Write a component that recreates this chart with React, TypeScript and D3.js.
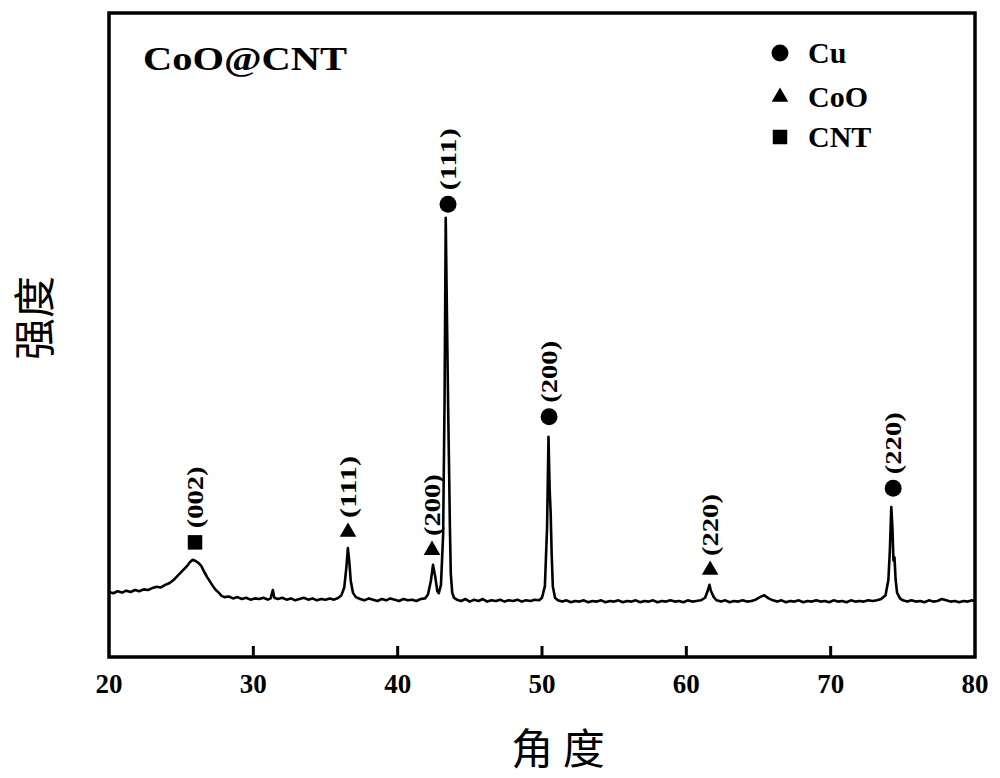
import React from "react";
import * as d3 from "d3";

// XRD trace: [2θ (deg), intensity (a.u.)]
const pattern: [number, number][] = [
  [20.0, 101], [20.3, 99], [20.6, 102], [20.9, 100], [21.2, 103], [21.5, 101], [21.8, 104], [22.1, 102],
  [22.4, 105], [22.7, 104], [23.0, 107], [23.3, 109], [23.6, 108], [23.9, 112], [24.2, 115], [24.5, 120],
  [24.8, 127], [25.1, 134], [25.4, 141], [25.6, 147], [25.8, 151], [26.0, 149], [26.2, 146], [26.4, 141],
  [26.6, 132], [26.8, 124], [27.0, 117], [27.2, 110], [27.4, 104], [27.6, 100], [27.8, 95], [28.0, 93],
  [28.3, 94], [28.6, 91], [28.9, 93], [29.2, 90], [29.5, 92], [29.8, 89], [30.1, 91], [30.4, 90],
  [30.7, 92], [31.0, 89], [31.2, 91], [31.35, 104], [31.45, 92], [31.7, 90], [32.0, 92], [32.3, 89],
  [32.6, 91], [32.9, 88], [33.2, 90], [33.5, 92], [33.8, 89], [34.1, 91], [34.4, 88], [34.7, 90],
  [35.0, 89], [35.3, 91], [35.6, 89], [35.9, 92], [36.1, 96], [36.3, 108], [36.45, 140], [36.55, 169],
  [36.65, 148], [36.75, 118], [36.9, 100], [37.1, 93], [37.4, 90], [37.7, 88], [38.0, 91], [38.3, 89],
  [38.6, 87], [38.9, 90], [39.2, 88], [39.5, 91], [39.8, 89], [40.1, 87], [40.4, 90], [40.7, 88],
  [41.0, 89], [41.3, 87], [41.6, 90], [41.9, 91], [42.1, 97], [42.3, 118], [42.45, 143], [42.6, 125],
  [42.75, 102], [42.85, 99], [43.0, 112], [43.15, 190], [43.25, 400], [43.33, 682], [43.42, 520],
  [43.5, 384], [43.56, 295], [43.62, 200], [43.68, 130], [43.78, 100], [43.9, 92], [44.1, 89], [44.4, 87],
  [44.7, 90], [45.0, 86], [45.3, 89], [45.6, 87], [45.9, 90], [46.2, 86], [46.5, 88], [46.8, 87],
  [47.1, 89], [47.4, 86], [47.7, 88], [48.0, 87], [48.3, 89], [48.6, 86], [48.9, 88], [49.2, 87],
  [49.5, 89], [49.8, 88], [50.0, 92], [50.2, 110], [50.35, 200], [50.45, 342], [50.53, 260],
  [50.6, 224], [50.67, 160], [50.75, 110], [50.9, 92], [51.1, 88], [51.4, 86], [51.7, 88], [52.0, 85],
  [52.3, 87], [52.6, 86], [52.9, 88], [53.2, 85], [53.5, 87], [53.8, 86], [54.1, 88], [54.4, 85],
  [54.7, 87], [55.0, 86], [55.3, 88], [55.6, 85], [55.9, 87], [56.2, 86], [56.5, 88], [56.8, 85],
  [57.1, 87], [57.4, 86], [57.7, 88], [58.0, 85], [58.3, 87], [58.6, 86], [58.9, 88], [59.2, 86],
  [59.5, 87], [59.8, 85], [60.1, 88], [60.4, 86], [60.7, 87], [61.0, 88], [61.3, 92], [61.5, 104],
  [61.6, 112], [61.7, 103], [61.9, 93], [62.1, 88], [62.4, 86], [62.7, 88], [63.0, 85], [63.3, 87],
  [63.6, 86], [63.9, 88], [64.2, 86], [64.5, 87], [64.8, 89], [65.1, 93], [65.4, 96], [65.7, 91],
  [66.0, 88], [66.3, 86], [66.6, 88], [66.9, 85], [67.2, 87], [67.5, 86], [67.8, 88], [68.1, 85],
  [68.4, 87], [68.7, 86], [69.0, 88], [69.3, 86], [69.6, 87], [69.9, 85], [70.2, 88], [70.5, 86],
  [70.8, 87], [71.1, 85], [71.4, 88], [71.7, 86], [72.0, 87], [72.3, 86], [72.6, 88], [72.9, 87],
  [73.2, 88], [73.5, 90], [73.8, 96], [74.0, 120], [74.1, 165], [74.2, 233], [74.28, 200], [74.35, 150],
  [74.42, 155], [74.5, 120], [74.6, 100], [74.8, 91], [75.0, 88], [75.3, 86], [75.6, 88], [75.9, 86],
  [76.2, 87], [76.5, 85], [76.8, 88], [77.1, 86], [77.4, 87], [77.7, 90], [78.0, 88], [78.3, 86],
  [78.6, 87], [78.9, 85], [79.2, 87], [79.5, 86], [79.8, 88], [80.0, 86],
];

// Peak markers: phase, marker position (2θ, intensity), Miller index
const peakPhase = ["CNT", "CoO", "CoO", "Cu", "Cu", "CoO", "Cu"];
const peakAngle = [25.96, 36.56, 42.38, 43.49, 50.49, 61.65, 74.33];
const peakMarkY = [178, 194, 166, 703, 373, 135, 262];
const peakLabel = ["(002)", "(111)", "(200)", "(111)", "(200)", "(220)", "(220)"];

const legendPhases = ["Cu", "CoO", "CNT"];
const xTicks = [20, 30, 40, 50, 60, 70, 80];
const title = "CoO@CNT";
const xTitle = "角 度";
const yTitle = "强度";

const symbolFor: Record<string, d3.SymbolType> = {
  Cu: d3.symbolCircle,
  CoO: d3.symbolTriangle,
  CNT: d3.symbolSquare,
};
const symbolSize: Record<string, number> = { Cu: 225, CoO: 120, CNT: 210 };

export default function App() {
  const W = 1000, H = 778;
  const left = 109, right = 975, top = 13, bottom = 657;
  const x = d3.scaleLinear().domain([20, 80]).range([left, right]);
  const y = d3.scaleLinear().domain([0, 1000]).range([bottom, top]);
  const line = d3.line<[number, number]>().x((d) => x(d[0])).y((d) => y(d[1]));
  const serif = "'Liberation Serif', 'Times New Roman', serif";
  const cjk = "'Noto Sans CJK SC', sans-serif";
  const sym = (p: string) => d3.symbol().type(symbolFor[p]).size(symbolSize[p])() as string;

  return (
    <svg width={W} height={H} style={{ position: "absolute", left: 0, top: 0, background: "#fff" }}>
      <path d={line(pattern) as string} fill="none" stroke="#000" strokeWidth={2.6} strokeLinejoin="round" />
      {/* ticks */}
      {xTicks.slice(1, -1).map((t) => (
        <line key={t} x1={x(t)} x2={x(t)} y1={bottom} y2={bottom - 11} stroke="#000" strokeWidth={3} />
      ))}
      {xTicks.map((t) => (
        <text key={"l" + t} x={x(t)} y={693} textAnchor="middle" fontFamily={serif} fontWeight="bold" fontSize={27}>
          {t}
        </text>
      ))}
      <rect x={left} y={top} width={right - left} height={bottom - top} fill="none" stroke="#000" strokeWidth={3.5} />
      {/* peak markers */}
      {peakAngle.map((a, i) => {
        const px = x(a), py = y(peakMarkY[i]);
        return (
          <g key={"p" + i}>
            <path d={sym(peakPhase[i])} transform={`translate(${px},${py})`} fill="#000" />
            <text
              transform={`translate(${px + 8},${py - 14}) rotate(-90)`}
              fontFamily={serif}
              fontWeight="bold"
              fontSize={24}
              textLength={62}
              lengthAdjust="spacingAndGlyphs"
            >
              {peakLabel[i]}
            </text>
          </g>
        );
      })}
      {/* title */}
      <text x={143} y={70} fontFamily={serif} fontWeight="bold" fontSize={33} textLength={204} lengthAdjust="spacingAndGlyphs">
        {title}
      </text>
      {/* legend */}
      {legendPhases.map((p, i) => {
        const ly = [53, 97, 137][i];
        const by = [63, 107, 147][i];
        return (
          <g key={"lg" + p}>
            <path d={sym(p)} transform={`translate(780,${ly})`} fill="#000" />
            <text x={808} y={by} fontFamily={serif} fontWeight="bold" fontSize={30}>
              {p}
            </text>
          </g>
        );
      })}
      {/* axis titles */}
      <text x={558} y={764} textAnchor="middle" fontFamily={cjk} fontSize={42}>
        {xTitle}
      </text>
      <text transform="translate(50,318) rotate(-90)" textAnchor="middle" fontFamily={cjk} fontSize={42}>
        {yTitle}
      </text>
    </svg>
  );
}
